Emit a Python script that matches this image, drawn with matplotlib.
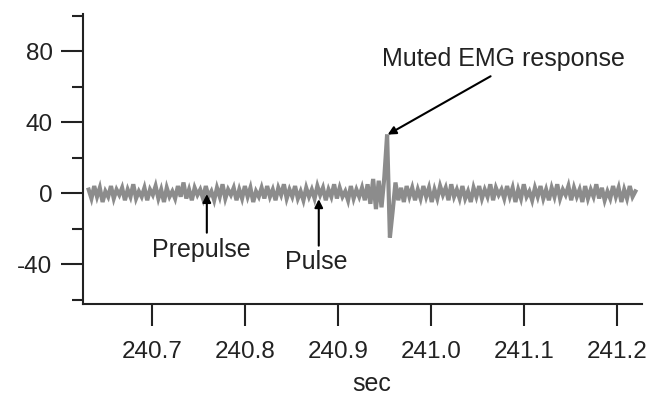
import numpy as np
import matplotlib.pyplot as plt

plt.rcParams['font.family'] = ['Liberation Sans', 'DejaVu Sans']

t0 = 240.632
dt = 0.003
emg = [2, -3, 4, -2, 3, -5, 1, -2, 4, -3, 2, -1, 3, -4, 2, -2, 5, -3, 1, -2,
       3, -4, 2, -1, 4, -3, 2, -5, 3, -2, 1, -3, 4, -2, 6, -3, 2, -4, 3, -1,
       2, -3, 4, -2, 1, -4, 3, -2, 5, -3, 2, -1, 3, -4, 2, -3, 4, -2, 3, -5,
       1, -2, 3, -3, 4, -2, 2, -4, 3, -1, 5, -3, 2, -2, 4, -3, 1, -4, 3, -2,
       2, -3, 4, -1, 3, -4, 2, -2, 5, -3, 3, -2, 1, -4, 4, -3, 2, -2, 3, -4,
       5, -6, 8, -9, 7, -8, 9, 33, -25, -10, 6, -4, 3, -5, 4, -2, 3, -4, 2, -3,
       4, -2, 3, -5, 2, -3, 4, -1, 3, -4, 5, -2, 2, -3, 4, -3, 1, -5, 3, -2,
       4, -3, 2, -2, 5, -4, 3, -1, 2, -3, 4, -2, 3, -5, 2, -3, 5, -2, 1, -4,
       3, -2, 4, -3, 2, -4, 3, -2, 5, -3, 2, -1, 4, -4, 3, -2, 2, -5, 4, -3,
       2, -2, 5, -3, 3, -4, 1, -3, 4, -2, 3, -5, 2, -3, 4, -2, 1]
t = t0 + dt * np.arange(len(emg))

xticks = [240.7, 240.8, 240.9, 241.0, 241.1, 241.2]
yticks = [80, 40, 0, -40]
yminor = [100, 60, 20, -20, -60]

# annotations: label, arrow tip, arrow tail, text position (time, value)
prepulse = ('Prepulse', (240.7591, -0.5), (240.7591, -22.3), (240.7532, -31.8))
pulse = ('Pulse', (240.8795, -3.4), (240.8795, -29.6), (240.8773, -38.8))
muted = ('Muted EMG response', (240.9536, 33), (241.0643, 65.9), (241.0783, 75.4))

fig = plt.figure(figsize=(6.49, 4.0), dpi=100)
ax = fig.add_axes([0.128, 0.24, 0.861, 0.725])

ax.plot(t, emg, color='#8c8c8c', lw=3.0, solid_joinstyle='miter')

ax.set_xlim(240.626, 241.227)
ax.set_ylim(-62.5, 101)
ax.set_xticks(xticks)
ax.set_xticklabels(['%.1f' % v for v in xticks])
ax.set_yticks(yticks)
ax.set_yticks(yminor, minor=True)
ax.set_yticklabels(['%d' % v for v in yticks])

for s in ['top', 'right']:
    ax.spines[s].set_visible(False)
for s in ['left', 'bottom']:
    ax.spines[s].set_linewidth(1.5)
    ax.spines[s].set_color('#222222')

ax.tick_params(axis='both', which='major', length=16, width=1.5, color='#222222',
               labelsize=17.5, labelcolor='#222222', pad=6)
ax.tick_params(axis='y', which='minor', length=8, width=1.5, color='#222222')
ax.tick_params(axis='x', pad=11)
ax.set_xlabel('sec', fontsize=18, color='#222222')
ax.xaxis.set_label_coords(0.517, -0.235)

for lab, tip, tail, txt in [prepulse, pulse, muted]:
    ax.annotate('', xy=tip, xytext=tail,
                arrowprops=dict(arrowstyle='-|>', color='black', lw=1.5,
                                mutation_scale=12, shrinkA=0, shrinkB=0))
    ax.text(txt[0], txt[1], lab, ha='center', va='center', fontsize=18,
            color='#222222')

fig.savefig('out.png', dpi=100)
